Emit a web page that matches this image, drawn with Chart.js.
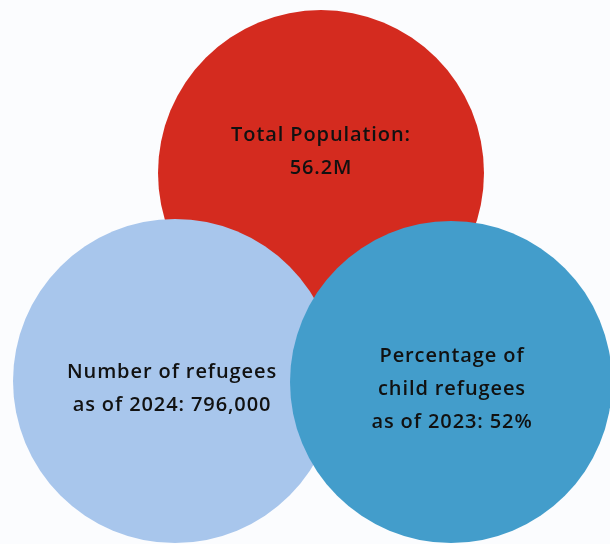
<!DOCTYPE html>
<html>
<head>
<meta charset="utf-8">
<script src="https://cdn.jsdelivr.net/npm/chart.js@4.4.1/dist/chart.umd.min.js"></script>
<style>
  html, body { margin: 0; padding: 0; background: #fbfcfe; }
  #wrap { width: 610px; height: 544px; }
</style>
</head>
<body>
<div id="wrap"><canvas id="venn" width="610" height="544"></canvas></div>
<script>
// Circles (drawn in this order: red, light blue, dark blue)
const circleNames = ['Total Population', 'Refugees 2024', 'Child refugees 2023'];
const circleX = [321, 175, 451];
const circleY = [173, 381, 382];
const circleR = [163, 162, 161];
const circleColors = ['#d42b1f', '#a8c6ec', '#439dcb'];

// Text inside each circle
const circleLabels = [
    ['Total Population:', '56.2M'],
    ['Number of refugees', 'as of 2024: 796,000'],
    ['Percentage of', 'child refugees', 'as of 2023: 52%']
];

const bubbleData = circleNames.map((n, i) => ({ x: circleX[i], y: circleY[i], r: circleR[i] }));

// a bolha reserva margem do tamanho do raio; aqui o eixo ocupa o canvas todo
Chart.controllers.bubble.prototype.getMaxOverflow = function () { return 0; };

// plugin para escrever os textos no centro das bolhas
const labelPlugin = {
    id: 'circleLabels',
    afterDatasetsDraw(chart) {
        const ctx = chart.ctx;
        const meta = chart.getDatasetMeta(0);
        const lineH = 33;
        const shiftY = [-21, 8, 7];
        const shiftX = [0, -3, 1];
        ctx.save();
        ctx.fillStyle = '#111111';
        ctx.font = '600 20px "Open Sans"';
        ctx.letterSpacing = '0.9px';
        ctx.textAlign = 'center';
        ctx.textBaseline = 'middle';
        meta.data.forEach((pt, i) => {
            const lines = circleLabels[i];
            const top = pt.y + shiftY[i] - (lines.length - 1) * lineH / 2;
            lines.forEach((txt, j) => {
                ctx.fillText(txt, pt.x + shiftX[i], top + j * lineH);
            });
        });
        ctx.restore();
    }
};

new Chart(document.getElementById('venn'), {
    type: 'bubble',
    data: {
        datasets: [{
            data: bubbleData,
            backgroundColor: circleColors,
            borderWidth: 0,
            hoverBorderWidth: 0
        }]
    },
    options: {
        responsive: false,
        animation: false,
        layout: { padding: 0 },
        clip: false,
        plugins: { legend: { display: false }, tooltip: { enabled: false } },
        scales: {
            x: { type: 'linear', min: 0, max: 610, display: false },
            y: { type: 'linear', min: 0, max: 544, reverse: true, display: false }
        }
    },
    plugins: [labelPlugin]
});
</script>
</body>
</html>
